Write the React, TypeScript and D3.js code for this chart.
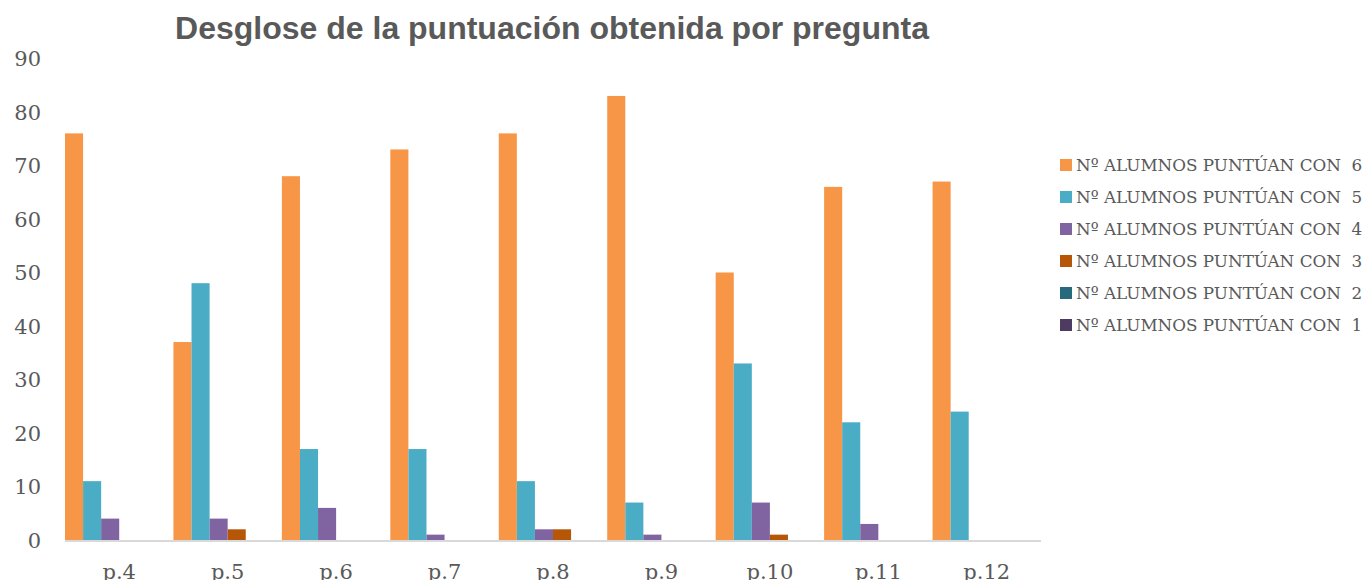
import { useEffect, useRef } from "react";
import * as d3 from "d3";

const width = 1367;
const height = 580;

const questions = ["p.4", "p.5", "p.6", "p.7", "p.8", "p.9", "p.10", "p.11", "p.12"];
const seriesNames = [
  "Nº ALUMNOS PUNTÚAN CON  6",
  "Nº ALUMNOS PUNTÚAN CON  5",
  "Nº ALUMNOS PUNTÚAN CON  4",
  "Nº ALUMNOS PUNTÚAN CON  3",
  "Nº ALUMNOS PUNTÚAN CON  2",
  "Nº ALUMNOS PUNTÚAN CON  1",
];
const score6 = [76, 37, 68, 73, 76, 83, 50, 66, 67];
const score5 = [11, 48, 17, 17, 11, 7, 33, 22, 24];
const score4 = [4, 4, 6, 1, 2, 1, 7, 3, 0];
const score3 = [0, 2, 0, 0, 2, 0, 1, 0, 0];
const score2 = [0, 0, 0, 0, 0, 0, 0, 0, 0];
const score1 = [0, 0, 0, 0, 0, 0, 0, 0, 0];
const yTicks = [0, 10, 20, 30, 40, 50, 60, 70, 80, 90];
const colors = ["#F79646", "#4BACC6", "#8064A2", "#B65708", "#276A7C", "#4D3B62"];

const App = () => {
  const svgRef = useRef<SVGSVGElement>(null);

  useEffect(() => {
    const allSeries = [score6, score5, score4, score3, score2, score1];
    const svg = d3.select(svgRef.current);
    svg.selectAll("*").remove();

    const x = d3.scaleBand().domain(questions).range([65, 1041]).padding(0);
    const inner = d3
      .scaleBand<number>()
      .domain(d3.range(allSeries.length))
      .range([0, x.bandwidth()])
      .padding(0);
    const y = d3.scaleLinear().domain([0, 90]).range([540, 58.5]);

    // title
    svg
      .append("text")
      .attr("x", 552)
      .attr("y", 39)
      .attr("text-anchor", "middle")
      .attr("font-family", "Liberation Sans, Arial, sans-serif")
      .attr("font-weight", "bold")
      .attr("font-size", 32)
      .attr("fill", "#595959")
      .text("Desglose de la puntuación obtenida por pregunta");

    // y labels
    svg
      .append("g")
      .selectAll("text")
      .data(yTicks)
      .join("text")
      .attr("x", 41)
      .attr("y", (d) => y(d))
      .attr("dy", "0.36em")
      .attr("text-anchor", "end")
      .attr("font-family", "DejaVu Serif, serif")
      .attr("font-size", 21)
      .attr("fill", "#595959")
      .text((d) => d);

    // bars
    allSeries.forEach((vals, s) => {
      svg
        .append("g")
        .selectAll("rect")
        .data(vals)
        .join("rect")
        .attr("x", (d, i) => (x(questions[i]) as number) + (inner(s) as number))
        .attr("y", (d) => y(d))
        .attr("width", inner.bandwidth())
        .attr("height", (d) => y(0) - y(d))
        .attr("fill", colors[s]);
    });

    // x axis line
    svg
      .append("line")
      .attr("x1", 65)
      .attr("x2", 1041)
      .attr("y1", y(0) + 1)
      .attr("y2", y(0) + 1)
      .attr("stroke", "#D9D9D9")
      .attr("stroke-width", 2);

    // x labels
    svg
      .append("g")
      .selectAll("text")
      .data(questions)
      .join("text")
      .attr("x", (d) => (x(d) as number) + x.bandwidth() / 2)
      .attr("y", 579)
      .attr("text-anchor", "middle")
      .attr("font-family", "DejaVu Serif, serif")
      .attr("font-size", 21)
      .attr("fill", "#595959")
      .text((d) => d);

    // legend
    const legend = svg
      .append("g")
      .selectAll("g")
      .data(seriesNames)
      .join("g")
      .attr("transform", (d, i) => `translate(1060, ${165 + i * 32})`);
    legend
      .append("rect")
      .attr("x", 0)
      .attr("y", -6)
      .attr("width", 12)
      .attr("height", 12)
      .attr("fill", (d, i) => colors[i]);
    legend
      .append("text")
      .attr("x", 16)
      .attr("y", 0)
      .attr("dy", "0.35em")
      .attr("font-family", "DejaVu Serif, serif")
      .attr("font-size", 16.8)
      .attr("fill", "#595959")
      .attr("xml:space", "preserve")
      .style("white-space", "pre")
      .text((d) => d);
  }, []);

  return (
    <svg
      ref={svgRef}
      width={width}
      height={height}
      style={{ position: "absolute", left: 0, top: 0, background: "#fff" }}
    />
  );
};

export default App;
